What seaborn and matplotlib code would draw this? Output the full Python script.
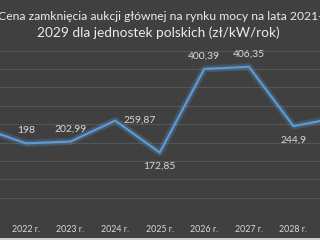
import matplotlib
matplotlib.use("Agg")
import matplotlib.pyplot as plt
import matplotlib.patheffects as pe
from matplotlib.patches import Rectangle
import seaborn as sns
import pandas as pd

# ---- data ----
years = ["2021 r.", "2022 r.", "2023 r.", "2024 r.", "2025 r.", "2026 r.", "2027 r.", "2028 r.", "2029 r."]
prices = [240.32, 198.0, 202.99, 259.87, 172.85, 400.39, 406.35, 244.9, 268.0]
label_side = ["above", "above", "above", "right", "below", "above", "above", "below", "above"]
title_line1 = "Cena zamknięcia aukcji głównej na rynku mocy na lata 2021-"
title_line2 = "2029 dla jednostek polskich (zł/kW/rok)"

BG = "#404040"
TXT = "#d9d9d9"
LINE = "#5b9bd5"

sns.set_theme(style="dark")
plt.rcParams["font.family"] = ["Lato", "DejaVu Sans"]

df = pd.DataFrame({"idx": range(len(years)), "price": prices})

fig = plt.figure(figsize=(3.2, 2.4), dpi=100, facecolor=BG)
ax = fig.add_axes([-0.1278, 0.0996, 1.2538, 0.689])
ax.set_facecolor(BG)

sns.lineplot(data=df, x="idx", y="price", ax=ax, color=LINE, linewidth=1.6,
             sort=False,
             path_effects=[pe.Stroke(linewidth=5, foreground=LINE, alpha=0.25), pe.Normal()])

ax.set_xlim(-0.5, len(years) - 0.5)
ax.set_ylim(0, 450)
ax.set_yticks(range(0, 451, 50))
ax.set_yticklabels([])
ax.grid(axis="y", color="#555555", linewidth=0.8)
ax.grid(axis="x", visible=False)
for s in ax.spines.values():
    s.set_visible(False)
ax.set_xticks(range(len(years)))
ax.set_xticklabels(years, color=TXT, fontsize=6.4)
ax.tick_params(axis="both", length=0)
ax.tick_params(axis="x", pad=6.5)
ax.set_xlabel("")
ax.set_ylabel("")

offsets = {"above": (0, 9, "center", "center"),
           "below": (0, -10, "center", "center"),
           "right": (6, 0, "left", "center")}
for i, (v, side) in enumerate(zip(prices, label_side)):
    dx, dy, ha, va = offsets[side]
    ax.annotate(f"{v:g}".replace(".", ","), (i, v), xytext=(dx, dy),
                textcoords="offset points", ha=ha, va=va, color=TXT, fontsize=7.5,
                annotation_clip=False)

fig.text(0.5, 1 - 17 / 240, title_line1, ha="center", va="center", fontsize=8.75, color="#ececec")
fig.text(0.495, 1 - 33 / 240, title_line2, ha="center", va="center", fontsize=9.8, color="#ececec")

fig.patches.append(Rectangle((0, 0), 1, 2 / 240, transform=fig.transFigure,
                             facecolor="#cfcfcf", edgecolor="none"))

fig.savefig("out.png", dpi=100, facecolor=BG)
